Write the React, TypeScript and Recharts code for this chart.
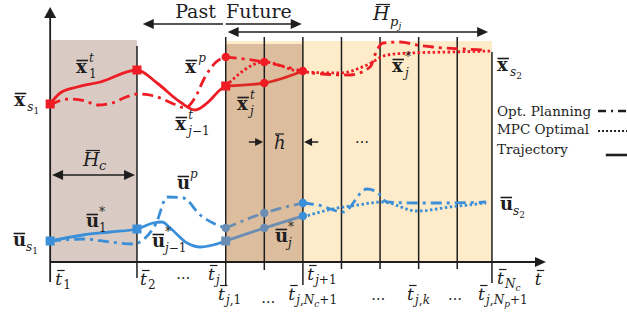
import React from "react";
import {
  ComposedChart,
  Line,
  Scatter,
  XAxis,
  YAxis,
  ReferenceArea,
  ReferenceLine,
} from "recharts";

// t = normalised time (one MPC step = 1), v = normalised value
const stepTimes = [2.25, 4.55, 5.55, 6.55, 7.55, 8.55, 9.55, 10.55, 11.45];
const stepTops = [21.6, 22.5, 22.5, 22.5, 22.5, 22.5, 22.5, 22.5, 21.0];
const stepBottoms = [-1.6, -2.3, -0.8, -2.3, -0.7, -0.7, -0.7, -0.7, -2.1];

// state x (red)
const redTrajPast = [[0, 15.8], [0.26, 16.9], [0.7, 17.5], [1.3, 18.0], [2.25, 19.2], [2.77, 17.9], [3.37, 16.0], [3.76, 15.2], [4.07, 15.9], [4.4, 17.2], [4.55, 17.6]];
const redTrajNow = [[4.55, 17.6], [5.55, 17.9], [6.55, 19.1]];
const redPlanPast = [[0, 15.7], [0.47, 16.3], [0.91, 16.1], [1.22, 15.7], [1.61, 15.9], [1.97, 16.5], [2.25, 16.8], [2.7, 16.6], [3.2, 15.8], [3.5, 15.4], [3.75, 16.4], [4.0, 18.4], [4.3, 20.0], [4.55, 20.5]];
const redPlanNext = [[4.55, 20.5], [5.55, 20.0], [6.55, 19.1], [6.79, 18.9], [7.77, 18.7], [8.29, 19.5], [8.47, 21.2], [8.63, 21.9], [9.07, 22.0], [9.51, 21.7], [9.92, 21.5], [10.7, 21.3], [11.2, 21.2]];
const redMpc = [[4.55, 17.6], [5.55, 20.0], [6.55, 19.0], [7.51, 18.9], [8.21, 19.7], [8.73, 20.7], [9.33, 20.9], [10.36, 21.0], [11.45, 21.1]];
const redSquares = [[0, 15.8], [2.25, 19.2], [4.55, 17.6]];
const redCircles = [[4.55, 20.5], [5.55, 20.0], [5.55, 17.9], [6.55, 19.1]];

// input u (blue)
const blueTrajPast = [[0, 2.1], [0.85, 2.7], [1.55, 3.0], [2.25, 3.3], [2.67, 3.9], [2.9, 4.0], [3.11, 3.4], [3.55, 1.9], [3.89, 1.5], [4.22, 1.7], [4.55, 2.1]];
const blueTrajNow = [[4.55, 2.1], [5.55, 3.4], [6.55, 4.6]];
const bluePlanPast = [[0, 2.1], [0.9, 2.3], [1.55, 2.0], [2.15, 1.8], [2.4, 2.2], [2.75, 3.9], [3.03, 6.5], [3.45, 6.4], [3.89, 4.7], [4.22, 3.9], [4.55, 3.4]];
const bluePlanNow = [[4.55, 3.4], [5.55, 4.9], [6.55, 5.9]];
const bluePlanNext = [[6.55, 5.9], [6.94, 5.7], [7.59, 5.0], [8.21, 7.3], [8.47, 7.0], [8.73, 6.0], [9.51, 5.9], [10.28, 5.9], [11.3, 6.0]];
const blueMpc = [[6.55, 4.5], [7.32, 5.3], [7.97, 5.7], [8.6, 6.0], [9.51, 5.1], [10.36, 5.5], [11.3, 5.9]];
const blueSquares = [[0, 2.1], [2.25, 3.3]];
const blueSquaresDim = [[4.55, 2.1]];
const blueCirclesDim = [[4.55, 3.4], [5.55, 4.9], [5.55, 3.4]];
const blueCircles = [[6.55, 5.9], [6.55, 4.6]];

// arrows
const shafts = [
  [[0, -2.0], [0, 24.4]],
  [[0, 0], [12.6, 0]],
  [[2.6, 23.8], [4.48, 23.8]],
  [[4.55, 23.8], [6.3, 23.8]],
  [[4.8, 23.0], [11.15, 23.0]],
  [[0.2, 8.7], [2.05, 8.7]],
  [[5.15, 12.0], [5.4, 12.0]],
  [[6.7, 12.0], [6.95, 12.0]],
];
const arrowHeads = [
  { t: 0, v: 25.5, dir: "up" },
  { t: 12.85, v: 0, dir: "right" },
  { t: 2.4, v: 23.8, dir: "left" },
  { t: 6.52, v: 23.8, dir: "right" },
  { t: 4.6, v: 23.0, dir: "left" },
  { t: 11.35, v: 23.0, dir: "right" },
  { t: 0.05, v: 8.7, dir: "left" },
  { t: 2.2, v: 8.7, dir: "right" },
  { t: 5.52, v: 12.0, dir: "right" },
  { t: 6.58, v: 12.0, dir: "left" },
];

// legend samples
const legendKeys = [
  { v: 15.1, kind: "plan" },
  { v: 13.1, kind: "mpc" },
  { v: 10.7, kind: "traj" },
];

const labels = [
  { id: "xs1", t: -0.93, v: 15.6 },
  { id: "x1t", t: 0.67, v: 18.9 },
  { id: "xp", t: 3.5, v: 18.9 },
  { id: "xjm1", t: 3.24, v: 13.2 },
  { id: "xjt", t: 4.84, v: 15.2 },
  { id: "xjs", t: 8.86, v: 19.0 },
  { id: "xs2", t: 11.58, v: 19.1 },
  { id: "us1", t: -0.96, v: 1.6 },
  { id: "u1s", t: 0.93, v: 3.5 },
  { id: "up", t: 3.29, v: 7.3 },
  { id: "ujm1", t: 2.64, v: 1.5 },
  { id: "ujs", t: 5.83, v: 2.0 },
  { id: "us2", t: 11.66, v: 5.2 },
  { id: "past", t: 3.24, v: 24.4 },
  { id: "future", t: 4.56, v: 24.4 },
  { id: "hpj", t: 8.37, v: 24.2 },
  { id: "hc", t: 0.85, v: 9.6 },
  { id: "h", t: 5.8, v: 11.3 },
  { id: "dotsMid", t: 8.08, v: 11.9 },
  { id: "legPlan", t: 11.58, v: 14.6 },
  { id: "legMpc", t: 11.58, v: 12.8 },
  { id: "legTraj", t: 11.58, v: 10.8 },
  { id: "t1", t: 0.13, v: -2.3 },
  { id: "t2", t: 2.33, v: -2.3 },
  { id: "dots1", t: 3.45, v: -1.7 },
  { id: "tj", t: 4.09, v: -1.8 },
  { id: "tj1", t: 4.35, v: -3.8 },
  { id: "dots2", t: 5.65, v: -4.1 },
  { id: "tjnc", t: 6.17, v: -3.8 },
  { id: "tjp1", t: 6.66, v: -1.8 },
  { id: "dots3", t: 8.5, v: -3.8 },
  { id: "tjk", t: 9.25, v: -3.8 },
  { id: "dots4", t: 10.49, v: -3.8 },
  { id: "tjnp", t: 11.09, v: -3.8 },
  { id: "tnc", t: 11.58, v: -2.2 },
  { id: "taxis", t: 12.56, v: -2.3 },
];

const RED = "#ee1c24";
const RED_DIM = "#dd2a25";
const BLUE = "#3b8fd8";
const BLUE_DIM = "#6b8db3";
const INK = "#1e1e1e";
const FONT = "DejaVu Serif";
const DASHDOT = "11 5 3 5";
const DOTTED = "2.5 2.5";

const pts = (rows: number[][]) => rows.map(([t, v]) => ({ t, v }));

const squareOf = (color: string) => (p: any) => (
  <rect x={p.cx - 4.5} y={p.cy - 4.5} width={9} height={9} fill={color} />
);
const circleOf = (color: string) => (p: any) => (
  <circle cx={p.cx} cy={p.cy} r={4.2} fill={color} />
);

const headShape = (p: any) => {
  const { cx, cy } = p;
  const small = p.payload.t > 5 && p.payload.t < 7 && p.payload.v < 13;
  const L = small ? 8 : 11;
  const w = small ? 4 : 5;
  let pts2 = "";
  if (p.payload.dir === "right") pts2 = `${cx},${cy} ${cx - L},${cy - w} ${cx - L},${cy + w}`;
  if (p.payload.dir === "left") pts2 = `${cx},${cy} ${cx + L},${cy - w} ${cx + L},${cy + w}`;
  if (p.payload.dir === "up") pts2 = `${cx},${cy} ${cx - 6},${cy + L} ${cx + 6},${cy + L}`;
  return <polygon points={pts2} fill={INK} />;
};

// upright digits / operators inside italic sub- and superscripts
const up = (s: string) => <tspan fontStyle="normal">{s}</tspan>;
const small = (s: string, upright = false) => (
  <tspan fontSize={9} dy={3} fontStyle={upright ? "normal" : "italic"}>{s}</tspan>
);

const Vec = ({ x, y, ch, sub, sup }: any) => (
  <g fill={INK} fontFamily={FONT}>
    <line x1={x + 0.5} x2={x + 12} y1={y - 12.5} y2={y - 12.5} stroke={INK} strokeWidth={1.6} />
    <text x={x} y={y} fontWeight={700} fontSize={18}>{ch}</text>
    {sup && <text x={x + 13} y={y - 11} fontStyle="italic" fontSize={12}>{sup}</text>}
    {sub && <text x={x + 13} y={y + 5} fontStyle="italic" fontSize={12}>{sub}</text>}
  </g>
);

const TimeLbl = ({ x, y, sub }: any) => (
  <g fill={INK} fontFamily={FONT}>
    <line x1={x + 2} x2={x + 9.5} y1={y - 14.5} y2={y - 14.5} stroke={INK} strokeWidth={1.2} />
    <text x={x} y={y} fontStyle="italic" fontSize={17}>t</text>
    {sub && <text x={x + 8} y={y + 4} fontStyle="italic" fontSize={12}>{sub}</text>}
  </g>
);

const Txt = ({ x, y, size = 13.5, anchor = "start", children }: any) => (
  <text x={x} y={y} fill={INK} fontFamily={FONT} fontSize={size} textAnchor={anchor}>
    {children}
  </text>
);

const renderLabel = (id: string, x: number, y: number) => {
  switch (id) {
    case "xs1": return <Vec x={x} y={y} ch="x" sub={<>s{small("1", true)}</>} />;
    case "x1t": return <Vec x={x} y={y} ch="x" sup="t" sub={up("1")} />;
    case "xp": return <Vec x={x} y={y} ch="x" sup="p" />;
    case "xjm1": return <Vec x={x} y={y} ch="x" sup="t" sub={<>j{up("−1")}</>} />;
    case "xjt": return <Vec x={x} y={y} ch="x" sup="t" sub="j" />;
    case "xjs": return <Vec x={x} y={y} ch="x" sup={up("*")} sub="j" />;
    case "xs2": return <Vec x={x} y={y} ch="x" sub={<>s{small("2", true)}</>} />;
    case "us1": return <Vec x={x} y={y} ch="u" sub={<>s{small("1", true)}</>} />;
    case "u1s": return <Vec x={x} y={y} ch="u" sup={up("*")} sub={up("1")} />;
    case "up": return <Vec x={x} y={y} ch="u" sup="p" />;
    case "ujm1": return <Vec x={x} y={y} ch="u" sup={up("*")} sub={<>j{up("−1")}</>} />;
    case "ujs": return <Vec x={x} y={y} ch="u" sup={up("*")} sub="j" />;
    case "us2": return <Vec x={x} y={y} ch="u" sub={<>s{small("2", true)}</>} />;
    case "past": return <Txt x={x} y={y} size={19}>Past</Txt>;
    case "future": return <Txt x={x} y={y} size={19}>Future</Txt>;
    case "hpj":
      return (
        <g fill={INK} fontFamily={FONT} fontStyle="italic">
          <line x1={x + 3} x2={x + 17} y1={y - 15.5} y2={y - 15.5} stroke={INK} strokeWidth={1.2} />
          <text x={x} y={y} fontSize={19}>H</text>
          <text x={x + 17} y={y + 6} fontSize={13}>p{small("j")}</text>
        </g>
      );
    case "hc":
      return (
        <g fill={INK} fontFamily={FONT} fontStyle="italic">
          <line x1={x + 3} x2={x + 17} y1={y - 15.5} y2={y - 15.5} stroke={INK} strokeWidth={1.2} />
          <text x={x} y={y} fontSize={19}>H</text>
          <text x={x + 16} y={y + 4} fontSize={13}>c</text>
        </g>
      );
    case "h":
      return (
        <g fill={INK} fontFamily={FONT} fontStyle="italic">
          <line x1={x + 1} x2={x + 10} y1={y - 15} y2={y - 15} stroke={INK} strokeWidth={1.2} />
          <text x={x} y={y} fontSize={18}>h</text>
        </g>
      );
    case "dotsMid":
    case "dots1":
    case "dots2":
    case "dots3":
    case "dots4":
      return <Txt x={x} y={y} size={14} anchor="middle">…</Txt>;
    case "legPlan": return <Txt x={x} y={y}>Opt. Planning</Txt>;
    case "legMpc": return <Txt x={x} y={y}>MPC Optimal</Txt>;
    case "legTraj": return <Txt x={x} y={y}>Trajectory</Txt>;
    case "t1": return <TimeLbl x={x} y={y} sub={up("1")} />;
    case "t2": return <TimeLbl x={x} y={y} sub={up("2")} />;
    case "tj": return <TimeLbl x={x} y={y} sub="j" />;
    case "tj1": return <TimeLbl x={x} y={y} sub={<>j{up(",1")}</>} />;
    case "tjnc": return <TimeLbl x={x} y={y} sub={<>j{up(",")}N{small("c")}<tspan dy={-3} fontStyle="normal">+1</tspan></>} />;
    case "tjp1": return <TimeLbl x={x} y={y} sub={<>j{up("+1")}</>} />;
    case "tjk": return <TimeLbl x={x} y={y} sub={<>j{up(",")}k</>} />;
    case "tjnp": return <TimeLbl x={x} y={y} sub={<>j{up(",")}N{small("p")}<tspan dy={-3} fontStyle="normal">+1</tspan></>} />;
    case "tnc": return <TimeLbl x={x} y={y} sub={<>N{small("c")}</>} />;
    case "taxis": return <TimeLbl x={x} y={y} />;
    default: return <g />;
  }
};

const labelShape = (p: any) => renderLabel(p.payload.id, p.cx, p.cy);

const lineProps = {
  dataKey: "v",
  type: "monotone" as const,
  dot: false,
  activeDot: false,
  isAnimationActive: false,
  strokeWidth: 2.8,
};

const MpcDiagram = () => {
  return (
    <div style={{ position: "absolute", left: 0, top: 0, width: 627, height: 322, background: "#fff" }}>
      <ComposedChart width={627} height={322} margin={{ top: 0, right: 0, bottom: 0, left: 0 }}>
        <XAxis dataKey="t" type="number" domain={[-1.3, 14.95]} allowDataOverflow hide />
        <YAxis dataKey="v" type="number" domain={[-6, 26.2]} allowDataOverflow hide />

        <ReferenceArea x1={0} x2={2.25} y1={0} y2={22.2} fill="#d9cbc3" fillOpacity={1} stroke="none" />
        <ReferenceArea x1={4.55} x2={11.45} y1={0} y2={22.1} fill="#fdebc9" fillOpacity={1} stroke="none" />
        <ReferenceArea x1={4.55} x2={6.55} y1={0} y2={21.8} fill="#dcbd9e" fillOpacity={1} stroke="none" />

        {stepTimes.map((t, i) => (
          <ReferenceLine
            key={"s" + i}
            segment={[{ x: t, y: stepBottoms[i] }, { x: t, y: stepTops[i] }]}
            stroke={INK}
            strokeWidth={1.5}
          />
        ))}
        {shafts.map((s, i) => (
          <ReferenceLine
            key={"a" + i}
            segment={[{ x: s[0][0], y: s[0][1] }, { x: s[1][0], y: s[1][1] }]}
            stroke={INK}
            strokeWidth={i < 2 ? 1.8 : 1.5}
          />
        ))}
        {legendKeys.map((k) => (
          <ReferenceLine
            key={k.kind}
            segment={[{ x: k.kind === "traj" ? 14.4 : 14.2, y: k.v }, { x: 14.95, y: k.v }]}
            stroke={INK}
            strokeWidth={k.kind === "mpc" ? 2.2 : 2.6}
            strokeDasharray={k.kind === "plan" ? "8 5 2 5" : k.kind === "mpc" ? "2 2" : undefined}
          />
        ))}

        <Line {...lineProps} data={pts(redTrajPast)} stroke={RED} />
        <Line {...lineProps} data={pts(redTrajNow)} stroke={RED_DIM} />
        <Line {...lineProps} data={pts(redPlanPast)} stroke={RED} strokeDasharray={DASHDOT} />
        <Line {...lineProps} data={pts(redPlanNext)} stroke={RED} strokeDasharray={DASHDOT} />
        <Line {...lineProps} data={pts(redMpc)} stroke={RED} strokeDasharray={DOTTED} />

        <Line {...lineProps} data={pts(blueTrajPast)} stroke={BLUE} />
        <Line {...lineProps} data={pts(blueTrajNow)} stroke={BLUE_DIM} />
        <Line {...lineProps} data={pts(bluePlanPast)} stroke={BLUE} strokeDasharray={DASHDOT} />
        <Line {...lineProps} data={pts(bluePlanNow)} stroke={BLUE_DIM} strokeDasharray={DASHDOT} />
        <Line {...lineProps} data={pts(bluePlanNext)} stroke={BLUE} strokeDasharray={DASHDOT} />
        <Line {...lineProps} data={pts(blueMpc)} stroke={BLUE} strokeDasharray={DOTTED} />

        <Scatter data={pts(redSquares)} shape={squareOf(RED)} isAnimationActive={false} />
        <Scatter data={pts(redCircles)} shape={circleOf(RED)} isAnimationActive={false} />
        <Scatter data={pts(blueSquares)} shape={squareOf(BLUE)} isAnimationActive={false} />
        <Scatter data={pts(blueSquaresDim)} shape={squareOf(BLUE_DIM)} isAnimationActive={false} />
        <Scatter data={pts(blueCirclesDim)} shape={circleOf(BLUE_DIM)} isAnimationActive={false} />
        <Scatter data={pts(blueCircles)} shape={circleOf(BLUE)} isAnimationActive={false} />

        <Scatter data={arrowHeads} shape={headShape} isAnimationActive={false} />
        <Scatter data={labels} shape={labelShape} isAnimationActive={false} />
      </ComposedChart>
    </div>
  );
};

export default MpcDiagram;
